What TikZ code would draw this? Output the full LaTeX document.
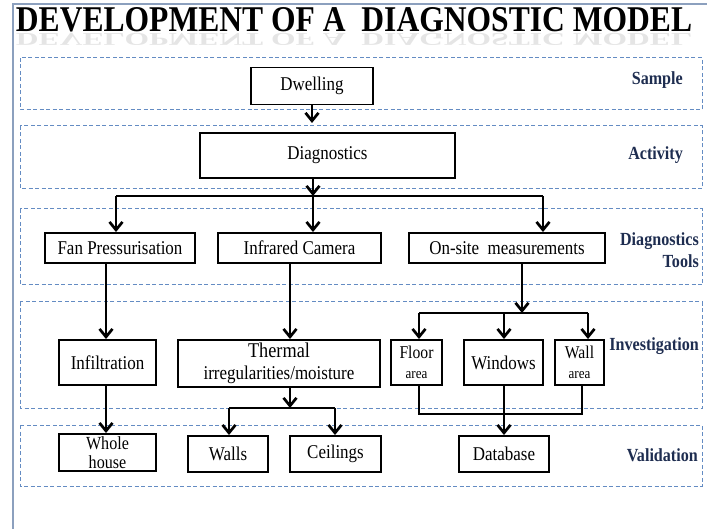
\documentclass[tikz,border=0pt]{standalone}
\usepackage{graphicx}
\usepackage{fontspec}
\setmainfont{Liberation Serif}
\newfontfamily\condserif[FakeStretch=0.87]{Liberation Serif}
\usetikzlibrary{arrows.meta}
\definecolor{bandblue}{RGB}{100,140,195}
\definecolor{labelnavy}{RGB}{30,45,80}
\definecolor{framegray}{RGB}{140,160,190}
\begin{document}
\begin{tikzpicture}[x=1pt,y=-1pt,
  box/.style={draw,line width=1.9pt,inner sep=0pt,align=center,font=\condserif\fontsize{19.5}{21}\selectfont},
  band/.style={draw=bandblue,line width=1pt,dash pattern=on 4pt off 2.5pt},
  lbl/.style={font=\condserif\fontsize{18.5}{22}\selectfont\bfseries,text=labelnavy,anchor=east,inner sep=0pt,align=right},
  conn/.style={line width=2.7pt},
  arr/.style={conn,-{Straight Barb[length=8pt,width=13pt]}}]
\useasboundingbox (0,0) rectangle (707,529);
% frame
\draw[framegray,line width=1.5pt] (13,529) -- (13,4) -- (707,4);
% title
\node[inner sep=0pt] (title) at (354,20) {\resizebox{676pt}{24pt}{\bfseries DEVELOPMENT OF A\ \ DIAGNOSTIC MODEL}};
\node[inner sep=0pt,opacity=0.1] (reflect) at (354,39) {\scalebox{1}[-0.5]{\resizebox{676pt}{24pt}{\bfseries DEVELOPMENT OF A\ \ DIAGNOSTIC MODEL}}};
% bands
\draw[band] (20,58) rectangle (702,110);
\draw[band] (20,126) rectangle (702,189);
\draw[band] (20,209) rectangle (702,285);
\draw[band] (20,302) rectangle (702,408);
\draw[band] (20,425) rectangle (702,486);
% labels
\node[lbl] (lsample) at (683,80) {Sample};
\node[lbl] (lactivity) at (683,155) {Activity};
\node[lbl] (ltools) at (699,250) {Diagnostics\\Tools};
\node[lbl] (linv) at (699,346) {Investigation};
\node[lbl] (lval) at (698,455) {Validation};
% boxes
\node[box,minimum width=122pt,minimum height=37pt] (dwelling) at (312,86) {Dwelling};
\node[box,minimum width=255pt,minimum height=45pt] (diag) at (327.5,155.5) {Diagnostics};
\node[box,minimum width=150pt,minimum height=30pt] (fan) at (120,248) {Fan Pressurisation};
\node[box,minimum width=163pt,minimum height=30pt] (ir) at (299.5,248) {Infrared Camera};
\node[box,minimum width=196pt,minimum height=30pt] (onsite) at (507,248) {On-site\ \ measurements};
\node[box,minimum width=97pt,minimum height=45pt] (infil) at (107.5,362.5) {Infiltration};
\node[box,minimum width=202pt,minimum height=47pt,font=\condserif\fontsize{19.5}{22}\selectfont] (thermal) at (279,363.5) {{\fontsize{21}{22}\selectfont Thermal}\\irregularities/moisture};
\node[box,minimum width=51pt,minimum height=45pt,font=\condserif\fontsize{18}{20}\selectfont] (floor) at (416.5,362.5) {Floor\\{\fontsize{15}{20}\selectfont area}};
\node[box,minimum width=79pt,minimum height=45pt] (windows) at (503.5,362.5) {Windows};
\node[box,minimum width=49pt,minimum height=45pt,font=\condserif\fontsize{18}{20}\selectfont] (wall) at (579.5,362.5) {Wall\\{\fontsize{15}{20}\selectfont area}};
\node[box,minimum width=97pt,minimum height=37pt,font=\condserif\fontsize{18.5}{19}\selectfont] (whole) at (107.5,452.5) {Whole\\house};
\node[box,minimum width=80pt,minimum height=36pt] (walls) at (228,454) {Walls};
\node[box,minimum width=91pt,minimum height=36pt] (ceilings) at (335.5,454) {Ceilings};
\node[box,minimum width=90pt,minimum height=36pt] (database) at (504,454) {Database};
% junction coordinates
\coordinate (d0) at (312,123);
\coordinate (j1) at (313,196);
\coordinate (jL) at (116,196);
\coordinate (jR) at (543,196);
\coordinate (xfan) at (106,0);
\coordinate (xir) at (290,0);
\coordinate (xon) at (522,0);
\coordinate (j2) at (522,313);
\coordinate (j2L) at (419,313);
\coordinate (j2R) at (588,313);
\coordinate (xwin) at (504,0);
\coordinate (j3) at (290,408);
\coordinate (j3L) at (229,408);
\coordinate (j3R) at (335,408);
\coordinate (j4L) at (419,414);
\coordinate (j4R) at (582,414);
% connectors
\draw[arr] (dwelling.south) -- (d0);
\draw[arr] (diag.south -| j1) -- (j1);
\draw[conn] (jL) -- (jR);
\draw[arr] (jL) -- (fan.north -| jL);
\draw[arr] (j1) -- (ir.north -| j1);
\draw[arr] (jR) -- (onsite.north -| jR);
\draw[arr] (fan.south -| xfan) -- (infil.north -| xfan);
\draw[arr] (ir.south -| xir) -- (thermal.north -| xir);
\draw[arr] (onsite.south -| xon) -- (j2);
\draw[conn] (j2L) -- (j2R);
\draw[arr] (j2L) -- (floor.north -| j2L);
\draw[arr] (j2 -| xwin) -- (windows.north -| xwin);
\draw[arr] (j2R) -- (wall.north -| j2R);
\draw[arr] (infil.south -| xfan) -- (whole.north -| xfan);
\draw[arr] (thermal.south -| j3) -- (j3);
\draw[conn] (j3L) -- (j3R);
\draw[arr] (j3L) -- (walls.north -| j3L);
\draw[arr] (j3R) -- (ceilings.north -| j3R);
\draw[conn] (floor.south -| j4L) -- (j4L) -- (j4R) -- (wall.south -| j4R);
\draw[arr] (windows.south -| xwin) -- (database.north -| xwin);
\end{tikzpicture}
\end{document}
